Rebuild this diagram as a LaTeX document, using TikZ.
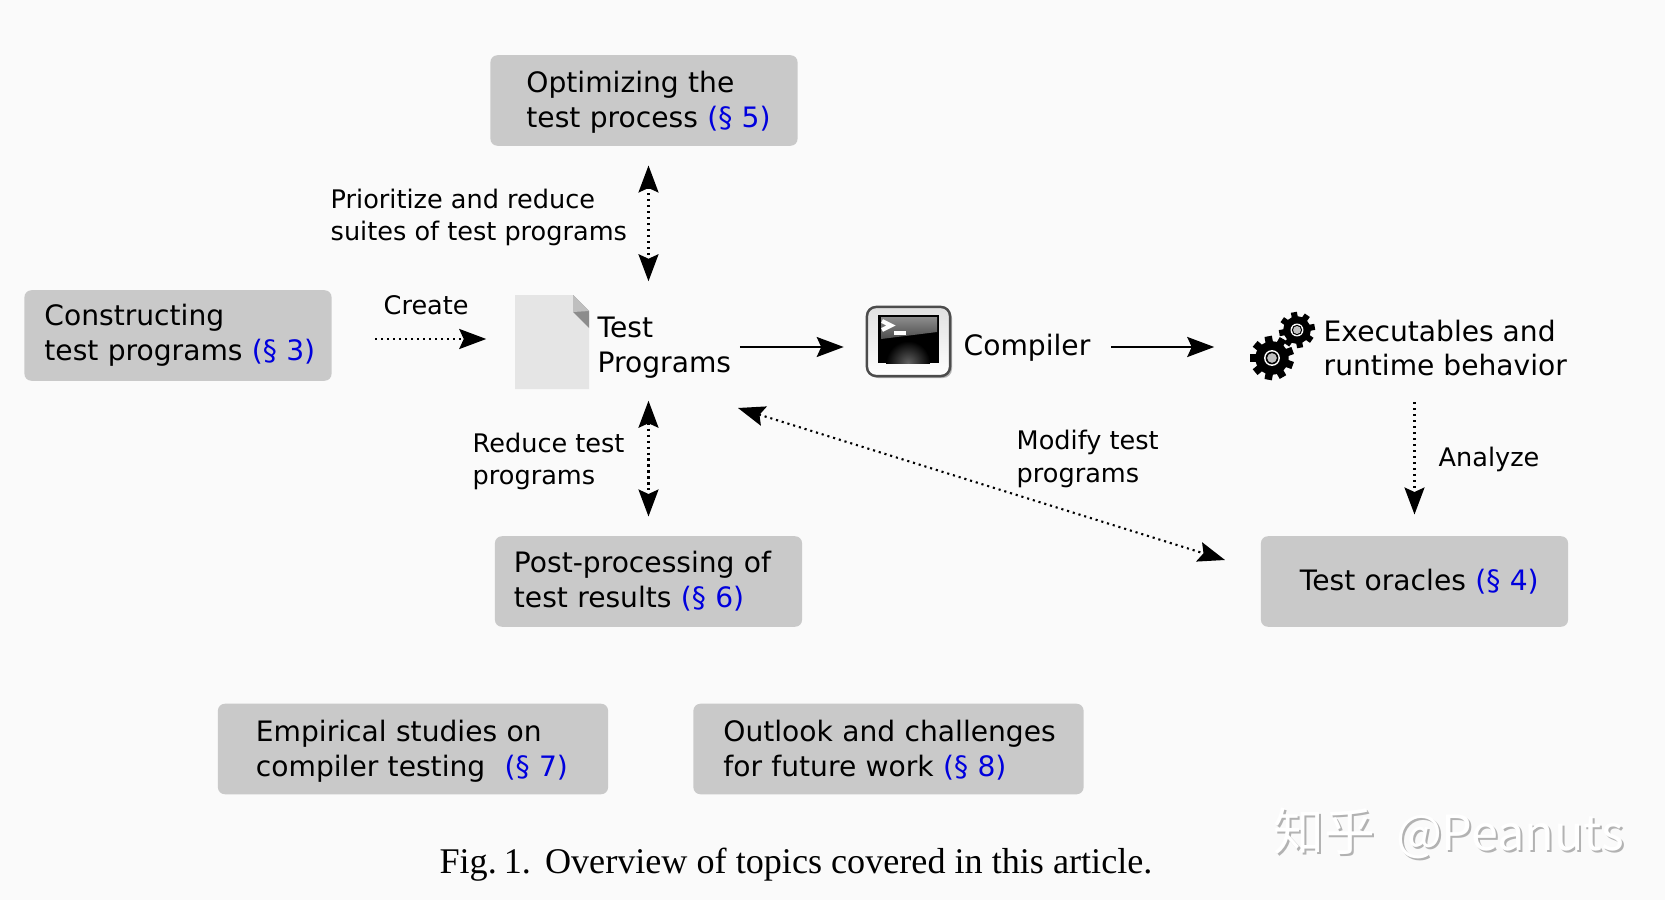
\documentclass[tikz,border=0pt]{standalone}
\usepackage{fontspec}
\setmainfont{DejaVu Sans}
\newfontfamily\capfont{Liberation Serif}
\newfontfamily\cjkfont{Noto Sans CJK SC}
\usetikzlibrary{arrows.meta}
\definecolor{pagegrey}{HTML}{FAFAFA}
\definecolor{boxgrey}{HTML}{C9C9C9}
\definecolor{secblue}{HTML}{0000DD}
\newcommand{\sect}[1]{\textcolor{secblue}{(§ #1)}}
\newcommand{\markname}{{\fontsize{14.4}{16}\selectfont 知乎}\hspace{6pt}@Peanuts}
\def\drawgear(#1,#2)(#3)(#4){
	\fill[black] (#1,#2) circle ({#3*0.76});
	\foreach \ang in {1,...,#4}
		\fill[black, rotate around={\ang*360/#4+10:(#1,#2)}] ({#1-#3*0.17},#2) rectangle ({#1+#3*0.17},{#2-#3});
	\fill[white] (#1,#2) circle ({#3*0.36});
	\fill[black] (#1,#2) circle ({#3*0.29});
	\fill[black!25] (#1,#2) circle ({#3*0.22});
}
\tikzset{
	boxbase/.style={fill=boxgrey, rounded corners=0.07cm, inner xsep=0, inner ysep=0, minimum height=0.905cm, align=left},
	shortbox/.style={boxbase, text width=3.07cm, font=\fontsize{8}{9.95}\selectfont},
	widebox/.style={boxbase, text width=3.9cm, font=\fontsize{8}{9.95}\selectfont},
	indent/.style={execute at begin node={\leftskip=#1cm}},
	drop/.style={execute at begin node={\rule{0pt}{#1pt}}},
	biglabel/.style={anchor=west, inner sep=0, align=left, font=\fontsize{8}{9.45}\selectfont},
	smalllabel/.style={anchor=west, inner sep=0, align=left, font=\fontsize{7.27}{9.1}\selectfont},
	bigtip/.tip={Stealth[length=0.27cm, width=0.2cm, inset=0.045cm]},
	solidarrow/.style={line width=0.6pt, -bigtip},
	dotarrow/.style={line width=0.6pt, dash pattern=on 0.6pt off 1.1pt, -bigtip},
	dotboth/.style={line width=0.6pt, dash pattern=on 0.6pt off 1.1pt, bigtip-bigtip},
}

\begin{document}
\begin{tikzpicture}[x=0.01cm, y=-0.01cm]
	%%%%% START %%%%%
	\fill[pagegrey] (0, 0) rectangle (1665, 900);
	\useasboundingbox (0, 0) rectangle (1665, 900);

	% topic boxes
	\node[shortbox, indent=0.36, drop=6.9] (optbox) at (644, 100.5) {Optimizing the\\test process \sect{5}};
	\node[shortbox, indent=0.20] (constructbox) at (178, 335.5) {Constructing\\test programs \sect{3}};
	\node[shortbox, indent=0.19] (postbox) at (648.5, 581.5) {Post-processing of\\test results \sect{6}};
	\node[shortbox, indent=0.39] (oraclebox) at (1414.5, 581.5) {Test oracles \sect{4}};
	\node[widebox, indent=0.38, drop=7.4] (empiricalbox) at (413, 749) {Empirical studies on\\compiler testing\hspace{5.5pt}\sect{7}};
	\node[widebox, indent=0.30, drop=6.9] (outlookbox) at (888.5, 749) {Outlook and challenges\\for future work \sect{8}};

	% test programs file
	\node[inner sep=0, minimum width=0.74cm, minimum height=0.94cm] (file) at (552, 342) {};
	\fill[black!10] (515, 295) -- (573, 295) -- (589, 315) -- (589, 389) -- (515, 389) -- cycle;
	\fill[black!45] (573, 295) -- (589, 311) -- (589, 328) -- (573, 312) -- cycle;
	\fill[black!25] (573, 295) -- (589, 311) -- (573, 312) -- cycle;
	\node[biglabel, font=\fontsize{8}{9.9}\selectfont] (testlabel) at (597, 347.5) {Test\\Programs};

	% compiler terminal
	\fill[black!30, rounded corners=0.09cm] (869, 309) rectangle (952, 378);
	\node[top color=black!12, bottom color=white, draw=black!70, line width=0.7pt, rounded corners=0.09cm, minimum width=0.83cm, minimum height=0.69cm, inner sep=0] (term) at (908.5, 341.5) {};
	\fill[black] (878, 315) rectangle (939, 363);
	\begin{scope}
		\clip (878, 315) rectangle (939, 363);
		\shade[inner color=black!62, outer color=black] (908, 363) circle (22);
	\end{scope}
	\shade[top color=black!45, bottom color=black!70] (881, 317) -- (937, 317) -- (937, 332) -- (881, 339) -- cycle;
	\draw[white, line width=1.2pt] (882, 321) -- (891, 325.5) -- (882, 330);
	\draw[white, line width=1pt] (894, 333) -- (906, 333);
	\node[biglabel] (compilerlabel) at (963, 348) {Compiler};

	% executables
	\drawgear(1272,358)(22)(9)
	\drawgear(1297,330)(18)(8)
	\node[inner sep=0, minimum width=0.64cm, minimum height=0.7cm] (gears) at (1284, 347) {};
	\node[biglabel] (execlabel) at (1323, 348) {Executables and\\runtime behavior};

	% connector labels
	\node[smalllabel] (prioritizelabel) at (330, 217) {Prioritize and reduce\\suites of test programs};
	\node[smalllabel] (createlabel) at (383, 305) {Create};
	\node[smalllabel] (reducelabel) at (472, 461) {Reduce test\\programs};
	\node[smalllabel, font=\fontsize{7.27}{9.3}\selectfont] (modifylabel) at (1016, 459) {Modify test\\programs};
	\node[smalllabel] (analyzelabel) at (1438, 459) {Analyze};

	% connectors
	\coordinate (flowline) at (0, 347);
	\coordinate (createline) at (0, 339);
	\coordinate (modstart) at (738, 408);
	\coordinate (modend) at (1225, 560);
	\draw[solidarrow, shorten <=0.08cm, shorten >=0.22cm] (testlabel.east |- flowline) -- (term.west |- flowline);
	\draw[solidarrow, shorten <=0.2cm, shorten >=0.37cm] (compilerlabel.east |- flowline) -- (gears.west |- flowline);
	\draw[dotarrow, shorten <=0.43cm, shorten >=0.28cm] (constructbox.east |- createline) -- (file.west |- createline);
	\draw[dotboth, shorten <=0.19cm, shorten >=0.13cm] (optbox.south -| postbox) -- (file.north -| postbox);
	\draw[dotboth, shorten <=0.11cm, shorten >=0.19cm] (file.south -| postbox) -- (postbox.north);
	\draw[dotboth] (modstart) -- (modend);
	\draw[dotarrow, shorten <=0.26cm, shorten >=0.21cm] (oraclebox.north |- execlabel.south) -- (oraclebox.north);

	% caption and watermark
	\node[inner sep=0, font=\capfont\fontsize{10.28}{12}\selectfont] (caption) at (796, 865) {Fig.\hspace{2pt}1.\hspace{4pt}Overview of topics covered in this article.};
	\node[inner sep=0, text=black!30, font=\cjkfont\fontsize{13.8}{16}\selectfont] (markshadow) at (1451, 835) {\markname};
	\node[inner sep=0, text=white, font=\cjkfont\fontsize{13.8}{16}\selectfont] (markfront) at (1449, 833) {\markname};
	%%%%% END %%%%%
\end{tikzpicture}
\end{document}
